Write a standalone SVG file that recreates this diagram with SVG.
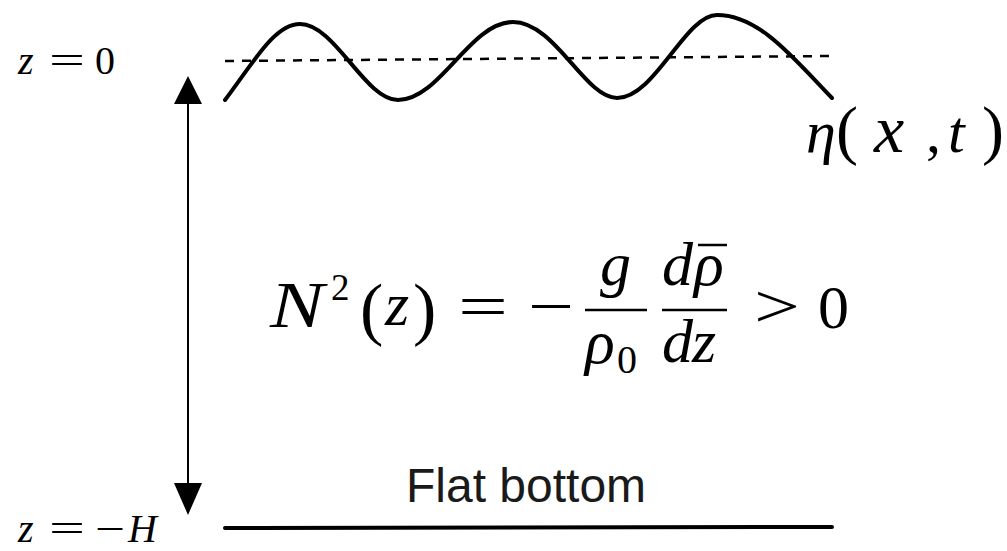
<svg xmlns="http://www.w3.org/2000/svg" width="1007" height="551" viewBox="0 0 1007 551">
<style>
.m{font-family:"Liberation Serif","DejaVu Serif",serif;fill:#000}
.i{font-style:italic}
.s{font-family:"Liberation Sans",Arial,sans-serif;fill:#1a1a1a}
.ln{stroke:#000;fill:none}
</style>
<rect width="1007" height="551" fill="#fff"/>
<g id="surface">
<path class="ln" stroke-width="4" stroke-linecap="round" d="M225,100 C255,60 275,24 300,24 C335,24 365,100 398,100 C440,100 470,22 513,22 C555,22 585,98 617,98 C655,98 685,15 717,15 C760,15 795,60 832,98"/>
<line class="ln" x1="225" y1="61" x2="832" y2="56" stroke="#333" stroke-width="2.5" stroke-dasharray="9 8"/>
</g>
<g id="bottom">
<line class="ln" x1="225" y1="528" x2="832" y2="527" stroke-width="4" stroke-linecap="round"/>
<text class="s" x="406" y="502" font-size="48">Flat bottom</text>
</g>
<g id="connectors">
<line class="ln" x1="188" y1="100" x2="188" y2="490" stroke-width="2"/>
<path d="M188,76 L202,104 L174,104 Z" fill="#000"/>
<path d="M188,515 L202,483 L174,483 Z" fill="#000"/>
</g>
<g id="label-top">
<text class="m i" x="18" y="74" font-size="40">z</text>
<text class="m" x="49" y="74" font-size="40" textLength="36" lengthAdjust="spacingAndGlyphs">=</text>
<text class="m" x="95" y="74" font-size="40">0</text>
</g>
<g id="label-bottom">
<text class="m i" x="18" y="542" font-size="40">z</text>
<text class="m" x="49" y="542" font-size="40" textLength="36" lengthAdjust="spacingAndGlyphs">=</text>
<text class="m" x="95" y="542" font-size="40" textLength="30" lengthAdjust="spacingAndGlyphs">−</text>
<text class="m i" x="128" y="542" font-size="40">H</text>
</g>
<g id="eta">
<text class="m i" x="806" y="152" font-size="60">η</text>
<text class="m" x="836" y="152" font-size="66">(</text>
<text class="m i" x="874" y="152" font-size="68">x</text>
<text class="m" x="926" y="152" font-size="60">,</text>
<text class="m i" x="948" y="152" font-size="60">t</text>
<text class="m" x="982" y="152" font-size="66">)</text>
</g>
<g id="formula">
<text class="m i" x="270" y="327" font-size="66" textLength="54" lengthAdjust="spacingAndGlyphs">N</text>
<text class="m" x="331" y="300" font-size="37">2</text>
<text class="m" x="360" y="332" font-size="70">(</text>
<text class="m i" x="385" y="325" font-size="62">z</text>
<text class="m" x="413" y="332" font-size="70">)</text>
<text class="m" x="458" y="327" font-size="62" textLength="50" lengthAdjust="spacingAndGlyphs">=</text>
<text class="m" x="528" y="327" font-size="62" textLength="46" lengthAdjust="spacingAndGlyphs">−</text>
<line class="ln" x1="585" y1="310" x2="647" y2="310" stroke-width="2.5"/>
<text class="m i" x="600" y="285" font-size="62">g</text>
<text class="m i" x="585" y="363" font-size="62">ρ</text>
<text class="m" x="617" y="373" font-size="40">0</text>
<line class="ln" x1="662" y1="310" x2="727" y2="310" stroke-width="2.5"/>
<text class="m i" x="662" y="285" font-size="62">d</text>
<text class="m i" x="694" y="285" font-size="62">ρ</text>
<line class="ln" x1="698" y1="245" x2="727" y2="245" stroke-width="2.5"/>
<text class="m i" x="662" y="362" font-size="62">d</text>
<text class="m i" x="692" y="362" font-size="62">z</text>
<text class="m" x="754" y="327" font-size="62" textLength="46" lengthAdjust="spacingAndGlyphs">&gt;</text>
<text class="m" x="818" y="328" font-size="62">0</text>
</g>
</svg>
